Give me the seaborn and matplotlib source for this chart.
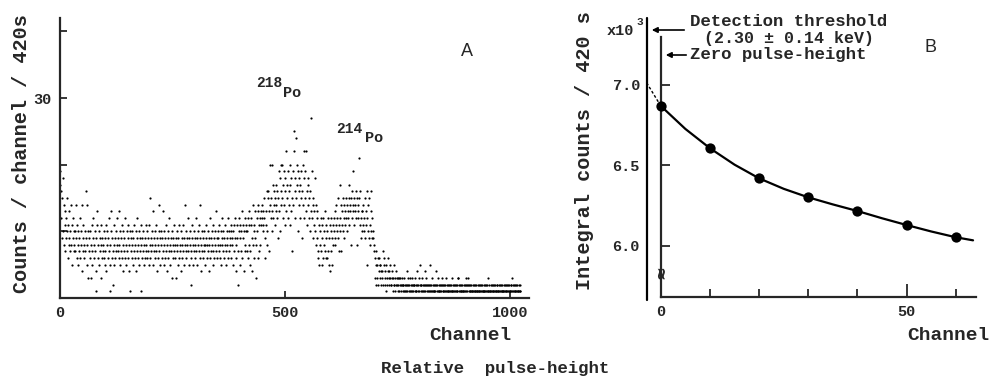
import numpy as np
import matplotlib
matplotlib.use('Agg')
import matplotlib.pyplot as plt
import seaborn as sns

# ## data
# panel A : counts per channel (channel = position in list), 32 channels per row
counts_a = [
    19,17,16,12,15,9,18,10,14,8,13,11,7,12,9,15,10,6,11,8,13,9,7,10,14,8,11,5,9,12,7,10,
    8,10,7,14,9,6,11,8,5,10,7,9,12,6,8,10,4,14,7,9,11,8,6,10,7,9,16,5,14,8,3,10,
    7,9,6,10,3,8,11,7,5,9,12,6,8,10,7,4,9,1,11,13,6,8,10,5,7,9,3,8,11,6,9,7,
    8,6,10,5,9,7,11,4,8,10,6,9,7,12,5,1,8,13,10,6,9,2,7,8,11,5,9,6,10,7,8,12,
    7,9,13,6,8,10,5,9,7,11,6,8,4,10,7,9,12,6,8,5,10,7,9,11,6,8,4,10,1,7,9,6,
    8,10,5,9,7,11,6,8,10,4,7,9,12,6,8,5,10,7,9,1,8,11,6,9,7,10,5,8,6,9,11,7,
    8,6,10,7,9,5,11,8,6,15,7,9,10,8,5,13,7,9,6,10,8,11,7,4,9,6,8,10,14,7,9,5,
    8,10,6,9,13,7,5,10,8,6,9,11,7,8,4,10,6,9,7,12,8,5,9,7,3,10,8,6,9,11,7,8,
    6,9,3,8,10,7,5,9,11,6,8,7,10,4,9,8,6,11,7,9,5,8,14,10,7,6,9,8,12,7,5,9,
    8,10,7,6,2,9,11,8,5,10,7,9,6,8,12,7,9,5,10,8,7,11,6,14,9,8,4,10,7,9,6,8,
    7,10,8,5,9,11,6,8,10,7,9,4,8,12,6,9,7,10,8,5,11,7,9,6,8,10,7,13,9,6,8,10,
    9,7,11,6,8,10,5,9,8,12,7,10,6,9,8,11,7,5,10,8,9,12,6,10,7,9,8,11,6,10,8,9,
    10,5,11,7,9,12,6,4,8,11,9,7,2,10,12,5,9,11,7,10,13,6,9,11,4,10,12,7,8,11,10,7,
    10,12,6,11,8,13,5,7,11,12,9,4,14,8,11,6,10,9,13,3,8,12,10,14,6,13,11,7,12,8,13,11,
    12,14,10,13,11,15,12,9,6,13,11,16,8,10,15,16,13,7,14,20,12,15,10,13,20,17,12,14,16,11,15,13,
    14,17,12,16,9,15,19,13,18,10,16,14,20,20,15,12,17,19,14,11,16,18,13,22,15,17,12,19,14,16,11,20,
    17,13,18,7,15,19,14,22,25,16,12,18,24,15,17,20,10,19,16,14,18,12,17,15,19,9,16,20,14,22,18,12,
    15,19,13,22,16,11,17,14,18,12,15,10,16,13,27,19,12,14,9,15,11,13,18,10,14,8,12,9,13,7,6,11,
    5,10,8,12,7,5,11,9,6,12,8,10,7,13,9,6,11,6,10,7,12,5,9,11,4,10,7,12,9,5,11,8,
    10,12,9,13,8,11,14,10,12,9,15,11,7,10,17,12,7,14,11,13,15,10,12,14,9,13,11,15,12,10,14,13,
    12,15,17,11,14,13,8,15,16,12,14,13,19,15,11,14,13,16,12,15,8,14,13,12,21,15,11,16,9,12,13,10,
    13,11,14,12,10,15,9,13,11,5,16,12,10,14,9,15,11,8,13,16,10,12,9,10,9,8,7,6,3,5,7,2,
    3,5,6,2,6,4,5,3,5,2,4,3,4,2,7,5,6,3,2,4,5,1,3,2,4,6,3,2,4,3,5,2,
    2,3,4,1,3,2,5,2,3,1,2,4,3,2,1,3,2,3,1,2,3,2,1,2,3,1,2,2,1,3,2,1,
    2,1,4,2,1,3,2,1,2,3,1,2,1,2,3,1,2,1,2,2,1,3,1,2,1,4,2,1,2,1,3,2,
    5,2,1,2,3,1,2,1,2,1,2,4,1,2,3,1,2,1,2,1,2,5,1,2,1,2,3,1,2,1,1,2,
    1,2,1,4,2,1,2,1,3,1,2,1,2,1,2,1,3,2,1,2,1,2,1,1,2,1,3,1,2,1,2,1,
    2,1,2,1,1,2,1,3,1,2,1,2,1,1,2,1,2,1,2,1,3,3,1,2,1,2,1,1,2,1,2,1,
    1,2,1,2,1,2,3,1,2,1,2,3,1,2,1,1,2,1,2,1,1,2,1,2,1,1,2,1,1,2,1,1,
    2,1,1,2,1,2,1,1,2,1,2,1,1,2,1,1,2,1,2,1,1,2,1,1,3,1,2,1,1,2,1,2,
    1,1,2,1,2,1,1,2,1,1,2,1,2,1,1,2,1,1,2,1,2,1,1,2,1,1,2,1,2,1,1,2,
    1,2,1,1,2,1,2,1,1,2,1,2,3,1,2,1,1,2,1,2,1,1,2,1,2,1,1,2,1,1,2,1,
]
a_xticks = [0, 500, 1000]
a_yticks = [10, 20, 30, 40]
a_ytick_labels = ['', '', '30', '']

# panel B : integral counts (x10^3) at the measured channels
b_channels = [0, 10, 20, 30, 40, 50, 60]
b_counts = [6.870, 6.607, 6.420, 6.302, 6.217, 6.130, 6.054]
# fitted curve
curve_channels = [0, 5, 10, 15, 20, 25, 30, 35, 40, 45, 50, 55, 60, 63.5]
curve_counts = [6.870, 6.727, 6.607, 6.505, 6.420, 6.355, 6.302, 6.258, 6.217, 6.172, 6.130, 6.090, 6.054, 6.035]
threshold_channel = -2.8
threshold_intercept = 7.01
b_yticks = [6.0, 6.5, 7.0]
b_xticks = [0, 10, 20, 30, 40, 50, 60]
b_xtick_labels = ['0', '', '', '', '', '50', '']

sns.set_style('ticks')
plt.rcParams['font.family'] = ['Liberation Mono', 'DejaVu Sans']
plt.rcParams['font.weight'] = 'bold'

W, H = 991, 385
def fpos(x, y):
    return x / W, 1 - y / H

fig = plt.figure(figsize=(9.91, 3.85), dpi=100)

# ---------------- panel A
axA = fig.add_axes([60 / W, 87 / H, 469 / W, 280 / H])
chan = np.arange(len(counts_a))
sns.scatterplot(x=chan, y=counts_a, ax=axA, s=2.5, color='black',
                linewidth=0, marker='o', legend=False)
axA.set_xlim(0, 1042)
axA.set_ylim(0, 42)
sns.despine(ax=axA)
for s in ['left', 'bottom']:
    axA.spines[s].set_linewidth(1.6)
axA.set_xticks(a_xticks)
axA.set_xticklabels([str(v) for v in a_xticks])
axA.set_yticks(a_yticks)
axA.set_yticklabels(a_ytick_labels)
axA.tick_params(direction='in', length=5, width=1.3, labelsize=11, pad=6)
axA.set_xlabel('')
axA.set_ylabel('')

fig.text(*fpos(22, 154), 'Counts / channel / 420s', rotation=90,
         ha='center', va='center', fontsize=14.5)
fig.text(*fpos(269, 83), '218', ha='center', va='center', fontsize=10.5)
fig.text(*fpos(292, 93), 'Po', ha='center', va='center', fontsize=11)
fig.text(*fpos(349, 129), '214', ha='center', va='center', fontsize=10.5)
fig.text(*fpos(374, 138), 'Po', ha='center', va='center', fontsize=11)
fig.text(*fpos(467, 51), 'A', ha='center', va='center', fontsize=13,
         family='Liberation Sans', weight='normal')

# ---------------- panel B
axB = fig.add_axes([647 / W, 88 / H, 329 / W, 279 / H])
sns.lineplot(x=curve_channels, y=curve_counts, ax=axB, color='black', lw=1.6)
sns.scatterplot(x=b_channels, y=b_counts, ax=axB, s=55, color='black',
                linewidth=0, legend=False, zorder=5)
axB.plot([b_channels[0], threshold_channel], [b_counts[0], threshold_intercept],
         color='black', lw=1.0, ls=(0, (2, 1.5)), clip_on=False)
axB.set_xlim(threshold_channel, 64.1)
axB.set_ylim(5.683, 7.416)
sns.despine(ax=axB)
axB.spines['left'].set_position(('data', 0))
axB.spines['left'].set_bounds(5.683, 7.298)
axB.spines['bottom'].set_bounds(0, 64.1)
for s in ['left', 'bottom']:
    axB.spines[s].set_linewidth(1.6)
axB.axvline(threshold_channel, ymin=-0.01, ymax=1.0, color='black', lw=1.6, clip_on=False)
axB.set_yticks(b_yticks)
axB.set_yticklabels(['%.1f' % v for v in b_yticks])
axB.set_xticks(b_xticks)
axB.set_xticklabels(b_xtick_labels)
axB.tick_params(axis='y', direction='in', length=6.5, width=1.3, labelsize=11, pad=15)
axB.tick_params(axis='x', direction='in', length=6, width=1.3, labelsize=11, pad=6)
axB.xaxis.get_major_ticks()[5].tick1line.set_markersize(9.5)
axB.set_xlabel('')
axB.set_ylabel('')
# axis break mark
axB.text(0, 5.84, '\u2248', ha='center', va='center', fontsize=12,
         family='DejaVu Sans', rotation=90)

fig.text(*fpos(585, 151), 'Integral counts / 420 s', rotation=90,
         ha='center', va='center', fontsize=14.5)
fig.text(*fpos(607, 31), 'x10', ha='left', va='center', fontsize=11)
fig.text(*fpos(636, 22), '3', ha='left', va='center', fontsize=8)
fig.text(*fpos(690, 22), 'Detection threshold', ha='left', va='center', fontsize=12.5)
fig.text(*fpos(789, 38), '(2.30 \u00b1 0.14 keV)', ha='center', va='center', fontsize=12)
fig.text(*fpos(690, 55), 'Zero pulse-height', ha='left', va='center', fontsize=12.5)
fig.text(*fpos(931, 48), 'B', ha='center', va='center', fontsize=13,
         family='Liberation Sans', weight='normal')
fig.add_artist(matplotlib.patches.FancyArrowPatch(
    fpos(687, 30), fpos(649, 30), transform=fig.transFigure,
    arrowstyle='-|>', mutation_scale=8, lw=1.2, color='black'))
fig.add_artist(matplotlib.patches.FancyArrowPatch(
    fpos(689, 55), fpos(663, 55), transform=fig.transFigure,
    arrowstyle='-|>', mutation_scale=8, lw=1.2, color='black'))

# ---------------- shared labels
fig.text(*fpos(470, 335), 'Channel', ha='center', va='center', fontsize=14)
fig.text(*fpos(990, 335), 'Channel', ha='right', va='center', fontsize=14)
fig.text(*fpos(495, 368), 'Relative  pulse-height', ha='center', va='center', fontsize=12.5)

fig.savefig('out.png', dpi=100)
